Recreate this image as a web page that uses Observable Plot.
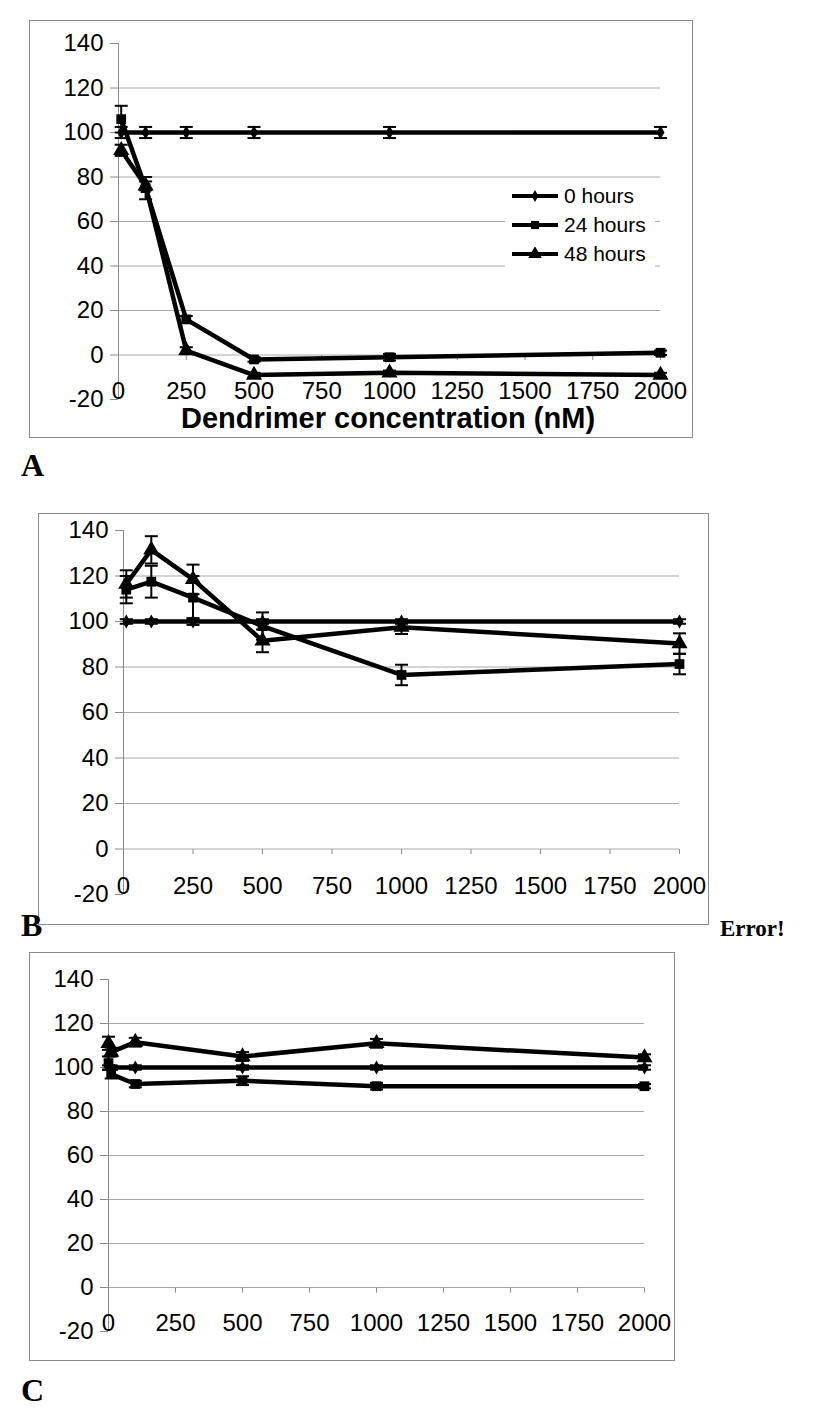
<!DOCTYPE html>
<html><head><meta charset="utf-8">
<script src="https://cdn.jsdelivr.net/npm/d3@7"></script>
<script src="https://cdn.jsdelivr.net/npm/@observablehq/plot@0.6"></script>
<style>
body{margin:0;background:#fff;}
#page{position:relative;width:813px;height:1421px;background:#fff;font-family:"Liberation Sans",Arial,sans-serif;overflow:hidden;}
.box{position:absolute;border:1px solid #8a8a8a;box-sizing:border-box;pointer-events:none;}
.panel{position:absolute;}
.letter{position:absolute;font-family:"Liberation Serif","Times New Roman",serif;font-weight:bold;font-size:32px;line-height:1;}
.err{position:absolute;font-family:"Liberation Serif","Times New Roman",serif;font-weight:bold;font-size:23px;line-height:1;}
.title{position:absolute;font-weight:bold;font-size:29px;line-height:1;white-space:nowrap;transform:translateX(-50%);}
.legend{position:absolute;background:#fff;}
.legrow{position:absolute;left:7px;height:24px;display:flex;align-items:center;font-size:21px;white-space:nowrap;}
.legrow svg{margin-right:6px;}
</style>
</head><body>
<div id="page"></div>
<script>
const seriesNames = ["0 hours", "24 hours", "48 hours"];
const seriesSymbols = ["diamond", "square", "triangle"];
const yTicks = [-20, 0, 20, 40, 60, 80, 100, 120, 140];
const gridTicks = [0, 20, 40, 60, 80, 100, 120];
const xTicks = [0, 250, 500, 750, 1000, 1250, 1500, 1750, 2000];

// Panel A
const concA = [10, 100, 250, 500, 1000, 2000];
const a0 = [100, 100, 100, 100, 100, 100];
const a0Err = [2.5, 2.5, 2.5, 2.5, 2.5, 2.5];
const a24 = [106, 75, 16, -2, -1, 1];
const a24Err = [6, 5, 1.5, 1, 1.5, 1];
const a48 = [92, 76, 2, -9, -8, -9];
const a48Err = [2.5, 2, 1.5, 1, 1, 1];
// Panel B
const concB = [10, 100, 250, 500, 1000, 2000];
const b0 = [100, 100, 100, 100, 100, 100];
const b0Err = [1, 1, 1.5, 1, 1, 1];
const b24 = [114, 117.5, 110.5, 98, 76.5, 81.3];
const b24Err = [6, 7, 9.5, 6, 4.5, 4.5];
const b48 = [116.5, 131.5, 118.5, 91.5, 97.5, 90.3];
const b48Err = [6, 6, 6.5, 5, 3, 4.5];
// Panel C
const concC = [0, 10, 100, 500, 1000, 2000];
const c0 = [100, 100, 100, 100, 100, 100];
const c0Err = [1, 1, 1, 1, 1, 1];
const c24 = [102, 97, 92.5, 94, 91.5, 91.5];
const c24Err = [3, 2, 1.5, 2, 1.5, 1];
const c48 = [111, 107, 111.5, 105, 111, 104.5];
const c48Err = [3, 2, 2, 2, 2, 1.5];

const capSym = {draw(ctx, size) { const r = Math.sqrt(size / Math.PI); ctx.moveTo(-r, 0); ctx.lineTo(r, 0); }};
const vTickSym = {draw(ctx, size) { const r = Math.sqrt(size / Math.PI); ctx.moveTo(0, 0); ctx.lineTo(0, r); }};
const markerR = {diamond: 4.2, square: 5.5, triangle: 6};

const page = document.getElementById("page");

function makePanel(cfg) {
  const rows = [];
  cfg.series.forEach(([vals, errs], s) => {
    cfg.conc.forEach((x, i) => rows.push({series: seriesNames[s], sym: seriesSymbols[s], x, y: vals[i], lo: vals[i] - errs[i], hi: vals[i] + errs[i]}));
  });
  const marks = [
    Plot.ruleY(gridTicks, {y: d => d, stroke: "#a8a8a8", strokeWidth: 1}),
    Plot.ruleX([0], {x: d => d, y1: -20, y2: 140, stroke: "#8a8a8a", strokeWidth: 1}),
    Plot.axisY(yTicks, {anchor: "left", tickSize: 8, tickPadding: 7, fontSize: 24, stroke: "#8a8a8a", fill: "black", label: null, tickFormat: d => String(d)}),
    Plot.dot(xTicks, {x: d => d, y: 0, symbol: vTickSym, r: 5, stroke: "#8a8a8a", strokeWidth: 1, fill: "none"}),
    Plot.text(xTicks, {x: d => d, y: -20, dy: -8, text: d => String(d), fontSize: 24, fill: "black"}),
    Plot.ruleX(rows, {x: "x", y1: "lo", y2: "hi", stroke: "black", strokeWidth: 2}),
    Plot.dot(rows, {x: "x", y: "hi", symbol: capSym, r: 6.5, stroke: "black", strokeWidth: 2, fill: "none"}),
    Plot.dot(rows, {x: "x", y: "lo", symbol: capSym, r: 6.5, stroke: "black", strokeWidth: 2, fill: "none"}),
    Plot.line(rows, {x: "x", y: "y", z: "series", stroke: "black", strokeWidth: 4.5, strokeLinejoin: "round"})
  ];
  seriesSymbols.forEach(sym => {
    marks.push(Plot.dot(rows.filter(d => d.sym === sym), {x: "x", y: "y", symbol: sym, r: markerR[sym], fill: "black", stroke: "none"}));
  });
  const svg = Plot.plot({
    width: cfg.w, height: cfg.h,
    marginLeft: cfg.mL, marginRight: cfg.mR, marginTop: cfg.mT, marginBottom: cfg.mB,
    x: {domain: [0, 2000], axis: null},
    y: {domain: [-20, 140]},
    style: {fontFamily: '"Liberation Sans", Arial, sans-serif', fontSize: "24px", color: "black", background: "transparent", overflow: "visible"},
    marks
  });
  const holder = document.createElement("div");
  holder.className = "panel";
  holder.style.left = cfg.left + "px"; holder.style.top = cfg.top + "px";
  holder.appendChild(svg);
  page.appendChild(holder);
  const box = document.createElement("div");
  box.className = "box";
  Object.assign(box.style, {left: cfg.left + "px", top: cfg.top + "px", width: cfg.w + "px", height: cfg.h + "px"});
  page.appendChild(box);
}

makePanel({conc: concA, series: [[a0, a0Err], [a24, a24Err], [a48, a48Err]], left: 29, top: 20, w: 664, h: 418, mL: 89, mR: 33, mT: 23, mB: 39});
makePanel({conc: concB, series: [[b0, b0Err], [b24, b24Err], [b48, b48Err]], left: 38, top: 513, w: 671, h: 412, mL: 85, mR: 30, mT: 17, mB: 31});
makePanel({conc: concC, series: [[c0, c0Err], [c24, c24Err], [c48, c48Err]], left: 29, top: 952, w: 646, h: 409, mL: 79, mR: 31, mT: 27, mB: 30});

// Title of panel A
const title = document.createElement("div");
title.className = "title";
title.textContent = "Dendrimer concentration (nM)";
title.style.left = "388px"; title.style.top = "404px";
page.appendChild(title);

// Legend of panel A
const legend = document.createElement("div");
legend.className = "legend";
Object.assign(legend.style, {left: "505px", top: "180px", width: "150px", height: "89px"});
const symPaths = {
  diamond: () => d3.symbol(d3.symbolDiamond, Math.PI * 3.6 * 3.6)(),
  square: () => d3.symbol(d3.symbolSquare, Math.PI * 4.6 * 4.6)(),
  triangle: () => d3.symbol(d3.symbolTriangle, Math.PI * 5 * 5)()
};
seriesNames.forEach((name, i) => {
  const row = document.createElement("div");
  row.className = "legrow";
  row.style.top = (4 + i * 29) + "px";
  row.innerHTML = `<svg width="46" height="14"><line x1="0" x2="46" y1="7" y2="7" stroke="black" stroke-width="4"/><path transform="translate(23,7)" d="${symPaths[seriesSymbols[i]]()}" fill="black"/></svg><span>${name}</span>`;
  legend.appendChild(row);
});
page.appendChild(legend);

// Panel letters and the stray text
[["A", 21, 449], ["B", 21, 909], ["C", 21, 1374]].forEach(([t, x, y]) => {
  const d = document.createElement("div");
  d.className = "letter"; d.textContent = t;
  d.style.left = x + "px"; d.style.top = y + "px";
  page.appendChild(d);
});
const err = document.createElement("div");
err.className = "err"; err.textContent = "Error!";
err.style.left = "720px"; err.style.top = "917px";
page.appendChild(err);
</script>
</body></html>
